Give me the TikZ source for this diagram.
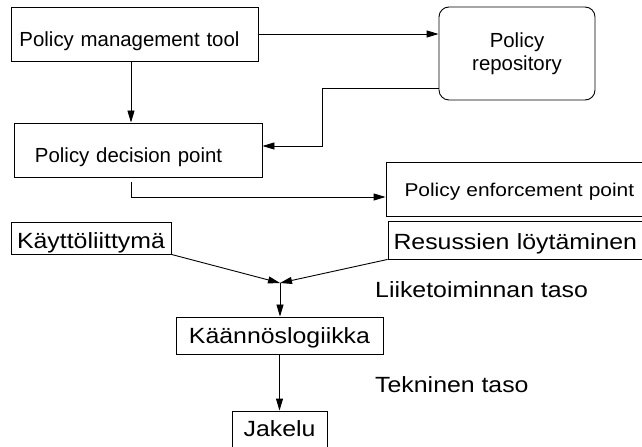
\documentclass[tikz,border=0pt]{standalone}
\usepackage{fontspec}
\setmainfont{Liberation Sans}
\newfontfamily\widesans[FakeStretch=1.13]{Liberation Sans}
\usetikzlibrary{arrows.meta}

\newcommand{\upperfont}{\fontsize{20.4bp}{23bp}\selectfont}
\newcommand{\pepfont}{\widesans\fontsize{18.5bp}{22bp}\selectfont}
\newcommand{\lowerfont}{\widesans\fontsize{22bp}{26bp}\selectfont}

\tikzset{
  conn/.style={line width=0.9bp, draw=black},
  arr/.style={conn, -{Triangle[length=12bp,width=7bp]}},
  box/.style={draw=black, line width=0.9bp, rectangle, inner ysep=0pt, inner xsep=0pt, text depth=0pt},
  upperbox/.style={box, font=\upperfont, minimum height=54bp},
  lowerbox/.style={box, font=\lowerfont},
  label/.style={font=\lowerfont, inner sep=0pt, anchor=base west}
}

\begin{document}
\begin{tikzpicture}[x=1bp, y=-1bp]
  \useasboundingbox (0,0) rectangle (642,447);
  \clip (0,0) rectangle (642,447);
  \fill[white] (0,0) rectangle (642,447);

  % policy architecture
  \node[upperbox, text height=25.4bp, inner xsep=8.5bp, text width=230bp, align=left] (pmt) at (134.5,34) {Policy management tool};
  \node[upperbox, text height=24.6bp, inner xsep=21bp, text width=206bp, align=left] (pdp) at (138,150) {Policy decision point};
  \node[draw=black, line width=0.9bp, inner sep=0pt, font=\upperfont, rounded corners=10bp, minimum width=156bp, minimum height=93bp, align=center] (repo) at (517,53.5) {Policy\\repository};
  \node[upperbox, font=\pepfont, text height=15.4bp, inner xsep=18.5bp, text width=239bp, align=left] (pep) at (524,189) {Policy enforcement point};

  \draw[arr] (pmt.east) -- (pmt.east -| repo.west);
  \draw[arr] ([xshift=-3.5bp]pmt.south) -- ([xshift=-3.5bp]pmt.south |- pdp.north);
  \draw[arr] ([yshift=-34.5bp]repo.west) -- ++(-116,0) |- ([yshift=4bp]pdp.east);
  \draw[arr] ([xshift=-7bp,yshift=-5bp]pdp.south) |- ([yshift=-8bp]pep.west);

  % layered components
  \node[lowerbox, text height=22bp, minimum width=160bp, minimum height=32bp] (ui) at (91,238) {Käyttöliittymä};
  \node[lowerbox, text height=20bp, inner xsep=5.5bp, text width=261bp, align=left, minimum height=38bp] (res) at (524,240) {Resussien löytäminen};
  \node[lowerbox, text height=15.6bp, minimum width=207bp, minimum height=37bp] (logic) at (279.5,335.5) {Käännöslogiikka};
  \node[lowerbox, text height=13.4bp, minimum width=95bp, minimum height=38bp] (dist) at (279.5,430) {Jakelu};
  \coordinate (join) at (280,283);

  \draw[arr] (ui.south east) -- (join);
  \draw[arr] (res.south west) -- (join);
  \draw[arr] (join) -- (join |- logic.north);
  \draw[arr] (logic.south) -- (dist.north);

  \node[label] (business) at (375,298) {Liiketoiminnan taso};
  \node[label] (technical) at (375,392) {Tekninen taso};
\end{tikzpicture}
\end{document}
